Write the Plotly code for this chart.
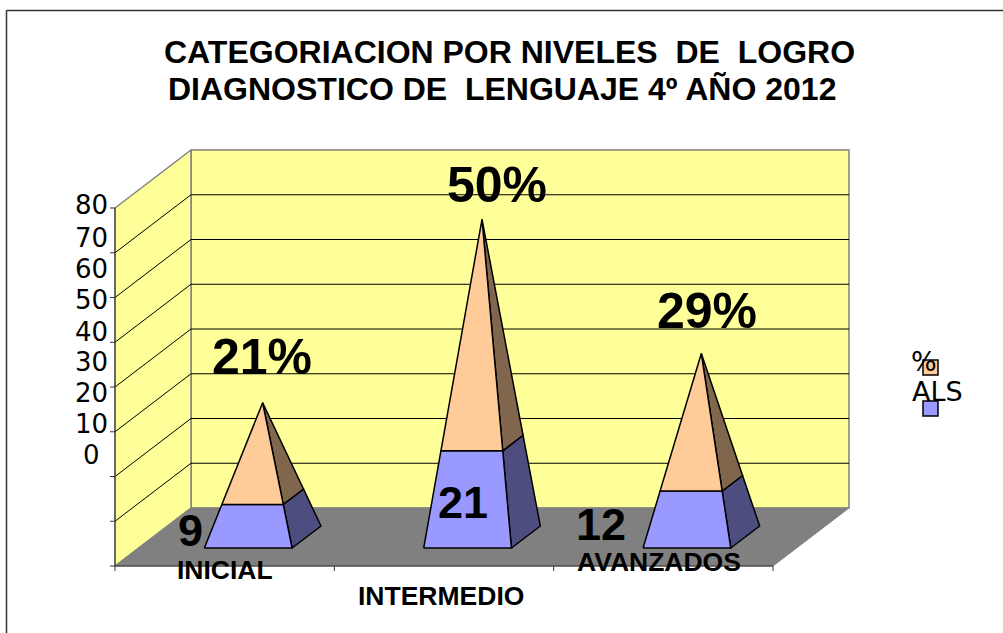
import plotly.graph_objects as go

# ---- data ----
categories = ["INICIAL", "INTERMEDIO", "AVANZADOS"]
als_values = [9, 21, 12]
pct_values = [21, 50, 29]
y_ticks = [0, 10, 20, 30, 40, 50, 60, 70, 80]
title_lines = ["CATEGORIACION POR NIVELES  DE  LOGRO", "DIAGNOSTICO DE  LENGUAJE 4º AÑO 2012"]
legend_names = ["%", "ALS"]

# ---- styling / layout ----
W, H = 1003, 633
X0, XPX = 115.0, 658 / 3      # pixel of category axis start, px per category
Y0, YPX = 566.0, 358 / 80     # pixel of value 0 (front), px per value unit
DEPTH_X, DEPTH_Y = 76 / XPX, 58 / YPX   # oblique depth offset, in axis units
C_WALL, C_FLOOR, C_EDGE = "#FFFF99", "#808080", "#808080"
C_ALS, C_ALS_SIDE = "#9999FF", "#4D4D80"
C_PCT, C_PCT_SIDE = "#FFCC99", "#80664D"


def P(c, v, d=0.0):
    """Project category coordinate c, value v, depth d (0 front..1 back)."""
    return c + d * DEPTH_X, v + d * DEPTH_Y


def poly(points, fill=None, line="black", width=1.0):
    xs = [P(*p)[0] for p in points]
    ys = [P(*p)[1] for p in points]
    if fill:
        xs.append(xs[0])
        ys.append(ys[0])
    return go.Scatter(
        x=xs, y=ys, mode="lines" if width else "none",
        fill="toself" if fill else None, fillcolor=fill,
        line=dict(color=line, width=width), hoverinfo="skip", showlegend=False,
    )


fig = go.Figure()
top = y_ticks[-1]
n = len(categories)

# walls and floor
fig.add_trace(poly([(0, 0, 1), (n, 0, 1), (n, top, 1), (0, top, 1)], C_WALL, C_EDGE, 1.5))
fig.add_trace(poly([(0, 0, 0), (0, 0, 1), (0, top, 1), (0, top, 0)], C_WALL, C_EDGE, 1.5))
fig.add_trace(poly([(0, 0, 0), (n, 0, 0), (n, 0, 1), (0, 0, 1)], C_FLOOR, C_EDGE, 1))

# gridlines
for t in y_ticks[1:-1]:
    fig.add_trace(poly([(0, t, 0), (0, t, 1), (n, t, 1)], None, "black", 1))

# axes
fig.add_trace(poly([(0, 0), (0, top)], None, "#333333", 1))
fig.add_trace(poly([(0, 0), (n, 0)], None, "#333333", 1))
for t in y_ticks:
    fig.add_trace(poly([(-5 / XPX, t), (0, t)], None, "#333333", 1))
for i in range(n + 1):
    fig.add_trace(poly([(i, 0), (i, -5 / YPX)], None, "#333333", 1))

# pyramids
HALF_W, D_FRONT, D_BACK = 0.2, 0.31, 0.69
for i, (a, p) in enumerate(zip(als_values, pct_values)):
    total = a + p
    c = i + 0.5
    apex = (c, total, 0.5)

    def corner(side, depth, t):
        return (c + side * HALF_W * (1 - t), total * t, 0.5 + (depth - 0.5) * (1 - t))

    t1 = a / total
    fl0, fr0, br0 = corner(-1, D_FRONT, 0), corner(1, D_FRONT, 0), corner(1, D_BACK, 0)
    fl1, fr1, br1 = corner(-1, D_FRONT, t1), corner(1, D_FRONT, t1), corner(1, D_BACK, t1)
    fig.add_trace(poly([fr0, br0, br1, fr1], C_ALS_SIDE, "black", 1.5))
    fig.add_trace(poly([fr1, br1, apex], C_PCT_SIDE, "black", 1.5))
    fig.add_trace(poly([fl0, fr0, fr1, fl1], C_ALS, "black", 1.5))
    fig.add_trace(poly([fl1, fr1, apex], C_PCT, "black", 1.5))


def label(text, x, y, size, family="Liberation Sans", bold=True):
    return dict(
        text=f"<b>{text}</b>" if bold else text, x=x / W, y=1 - y / H, xref="paper", yref="paper",
        xanchor="center", yanchor="middle", showarrow=False,
        font=dict(family=family, size=size, color="black"),
    )


ann = []
title_pos = [(509, 52), (502, 89)]
for line, (x, y) in zip(title_lines, title_pos):
    ann.append(label(line, x, y, 32))

# value-axis labels sit at their own spacing in the reference
for t, y in zip(y_ticks[::-1], [205, 238, 269, 300, 332, 362, 393, 424, 455]):
    ann.append(label(str(t), 91, y, 26, "DejaVu Sans", False))

for name, (x, y) in zip(categories, [(225, 570), (441, 596), (659, 562)]):
    ann.append(label(name, x, y, 26.5))
for v, (x, y) in zip(pct_values, [(262, 357), (497, 185), (707, 311)]):
    ann.append(label(f"{v}%", x, y, 50))
for v, (x, y) in zip(als_values, [(190, 530), (463, 502), (601, 524)]):
    ann.append(label(str(v), x, y, 45))

# hand-placed legend
for name, (x, y) in zip(legend_names, [(924, 361), (937, 391)]):
    ann.append(label(name, x, y, 27, "DejaVu Sans", False))


def box(x0, y0, x1, y1, fill):
    return dict(type="rect", xref="paper", yref="paper", x0=x0 / W, x1=x1 / W,
                y0=1 - y1 / H, y1=1 - y0 / H, fillcolor=fill,
                line=dict(color="black", width=1.5))


shapes = [
    box(923, 360, 938, 375, C_PCT),
    box(923, 401, 938, 416, C_ALS),
    dict(type="line", xref="paper", yref="paper", x0=6.5 / W, x1=1, y0=1 - 10.5 / H, y1=1 - 10.5 / H,
         line=dict(color="#333333", width=1.5)),
    dict(type="line", xref="paper", yref="paper", x0=6.5 / W, x1=6.5 / W, y0=0, y1=1 - 10.5 / H,
         line=dict(color="#333333", width=1.5)),
]

fig.update_layout(
    width=W, height=H, margin=dict(l=0, r=0, t=0, b=0),
    paper_bgcolor="white", plot_bgcolor="white", showlegend=False,
    annotations=ann, shapes=shapes,
    xaxis=dict(range=[-X0 / XPX, (W - X0) / XPX], visible=False, fixedrange=True),
    yaxis=dict(range=[(Y0 - H) / YPX, Y0 / YPX], visible=False, fixedrange=True),
)

fig.write_html("out.html", config=dict(displayModeBar=False),
               post_script="document.body.style.margin='0';document.body.style.overflow='hidden';")
